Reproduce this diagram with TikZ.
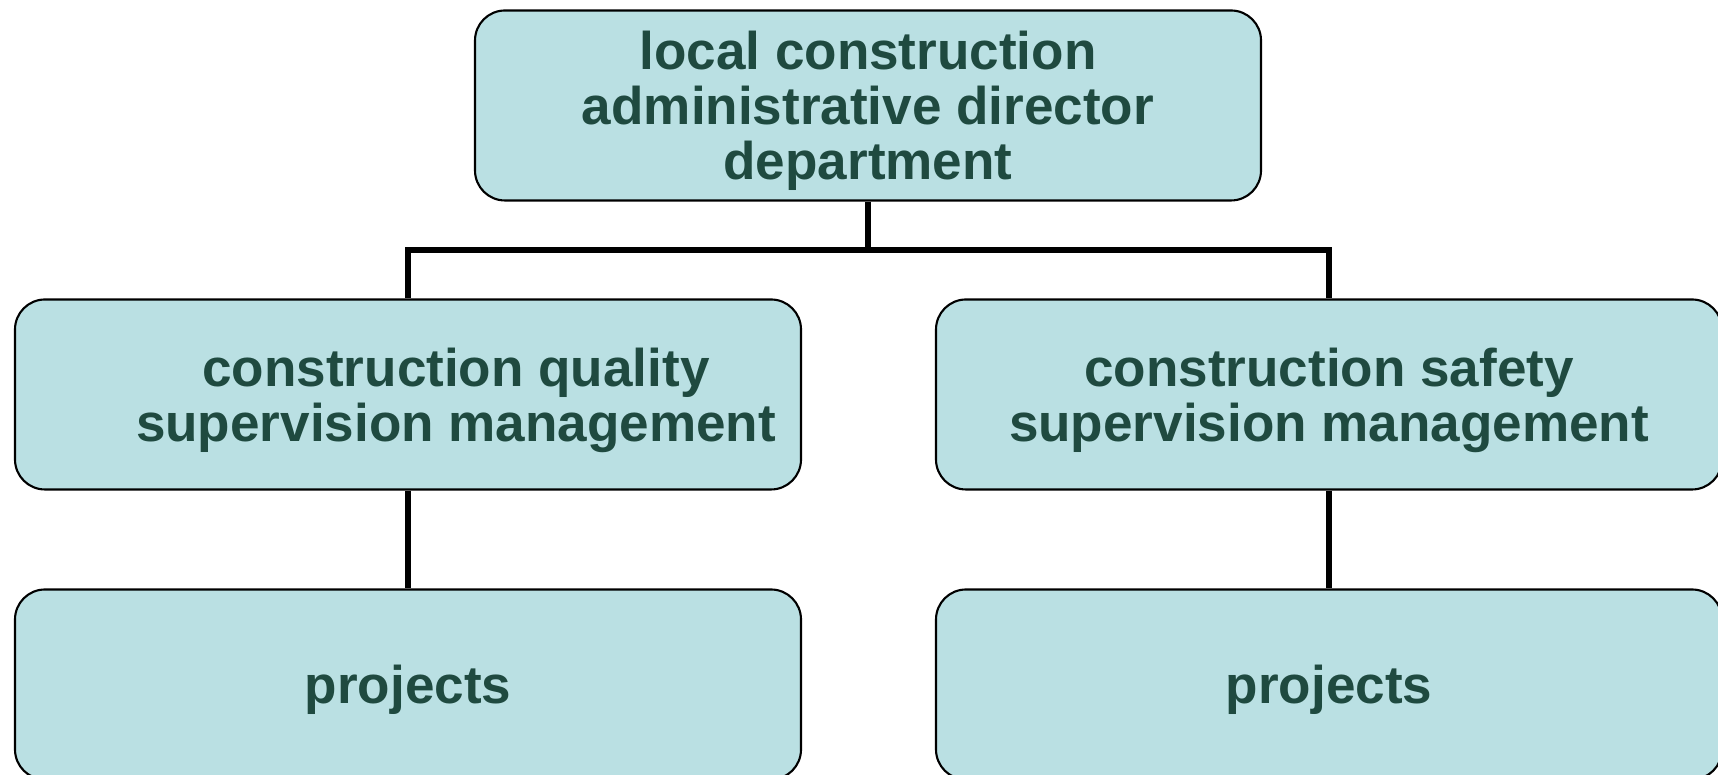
\documentclass[tikz,border=0pt]{standalone}
\usepackage{fontspec}
\setmainfont{Liberation Sans}
\usetikzlibrary{positioning}
\definecolor{boxfill}{RGB}{186,224,227}
\definecolor{boxtext}{RGB}{31,74,64}
\tikzset{
	orgbox/.style={draw=black, line width=0.6pt, fill=boxfill, rounded corners=0.3cm,
		minimum width=7.86cm, minimum height=1.9cm, inner sep=0pt, align=center,
		text depth=0pt, text=boxtext, font=\fontsize{15.1}{15.6}\selectfont\bfseries},
	link/.style={draw=black, line width=1.8pt}
}
\newcommand{\qshift}{\hspace*{0.96cm}}

\begin{document}
\begin{tikzpicture}
				\useasboundingbox (0,0) rectangle (17.18,7.75);
				
				% boxes
				\node[orgbox] (dept) at (8.68,6.695) {local construction\\administrative director\\department};
				\node[orgbox] (quality) at (4.08,3.805) {\qshift construction quality\\\qshift supervision management};
				\node[orgbox] (safety) at (13.29,3.805) {construction safety\\supervision management};
				\node[orgbox] (qproj) at (4.08,0.905) {projects};
				\node[orgbox] (sproj) at (13.29,0.905) {projects};
				
				% tree lines
				\coordinate (hub) at (8.68,5.25);
				\draw[link] (dept.south) -- (hub);
				\draw[link] (quality.north) |- (hub) -| (safety.north);
				\draw[link] (quality) -- (qproj);
				\draw[link] (safety) -- (sproj);
			\end{tikzpicture}
\end{document}
